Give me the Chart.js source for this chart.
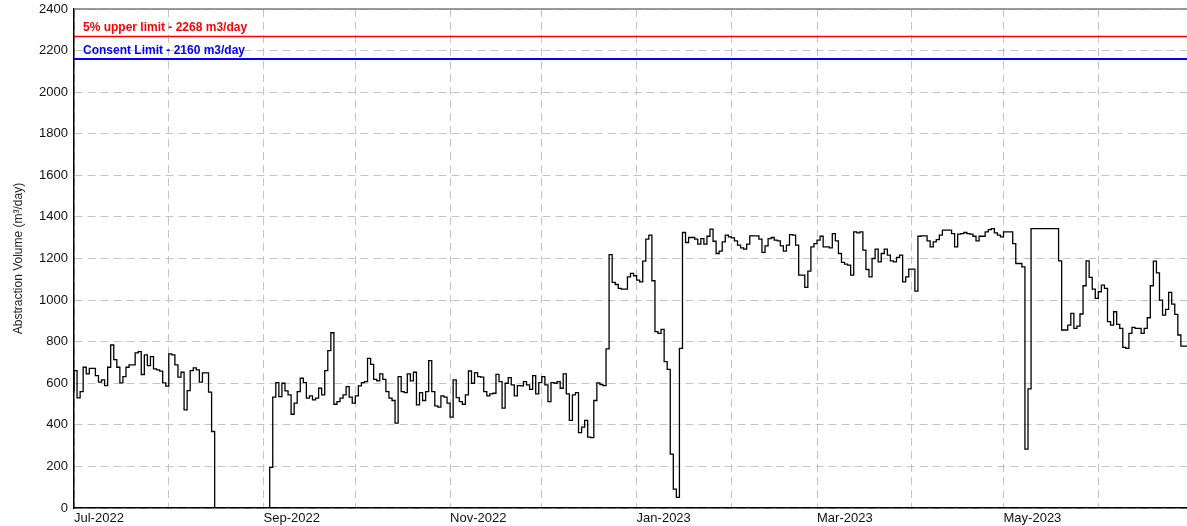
<!DOCTYPE html>
<html>
<head>
<meta charset="utf-8">
<script src="https://cdn.jsdelivr.net/npm/chart.js@4.4.0/dist/chart.umd.min.js"></script>
<style>
html,body{margin:0;padding:0;background:#fff;}
#wrap{width:1187px;height:526px;position:relative;}
</style>
</head>
<body>
<div id="wrap"><canvas id="c"></canvas></div>
<script>
// ---------------- DATA ----------------
const startDate = [2022, 6, 1]; // 1 Jul 2022 (year, monthIndex, day)

// daily abstraction volume, m3/day, from 1 Jul 2022
const volumeJulAug = [562,661,530,560,677,645,672,672,637,605,616,589,677,784,714,677,602,632,677,688,688,746,752,642,736,685,728,669,664,658,602,586,741,736,688,629,653,472,565,661,674,664,605,650,650,557,368,
  0,0,0,0,0,0,0,0,0,0,0,0,0,0,0,0,0,0,195];
const volumeSepOct = [533,603,536,600,563,544,451,504,560,624,603,528,539,520,528,576,544,661,757,843,499,512,528,544,584,533,504,539,587,603,608,720,691,619,611,645,619,560,528,517,408,632,560,555,645,611,653,496,555,517,560,709,560,491,485,539,533];
const volumeNovDec = [504,437,616,531,512,499,544,659,600,651,632,629,560,539,549,552,643,608,480,600,627,592,539,589,587,608,592,571,637,549,603,632,592,512,603,600,608,576,645,549,421,544,555,363,389,421,341,338,517,602,594,589,765];
const volumeJan = [1219,1085,1075,1056,1053,1053,1112,1128,1117,1096,1088,1187,1293,1312,1093,848,840,859,704,667,259,91,51,768];
const volumeFebMar = [1325,1277,1301,1301,1293,1269,1296,1269,1307,1341,1283,1224,1235,1280,1312,1304,1299,1285,1264,1251,1245,1269,1309,1309,1309,1293,1229,1261,1296,1301,1288,1285,1261,1235,1264,1315,1312,1264,1120,1120,1061,1139,1256,1272,1288,1307,1256,1256,1251,1320,1285,1224,1181,1173,1168,1120,1328,1323,1328];
const volumeMarApr = [1240,1147,1112,1200,1245,1184,1224,1245,1216,1189,1184,1205,1216,1088,1112,1149,1149,1043];
const volumeAprMay = [1307,1309,1309,1285,1256,1280,1291,1312,1336,1336,1336,1320,1256,1317,1320,1325,1320,1317,1307,1285,1307,1307,1328,1339,1344,1323,1312,1304,1328,1328,1328,1272,1176,1176,1160,
  283,573,1344,1344,1344,1344,1344,1344,1344,1344,1344];
const volumeMayJun = [1189,856,856,880,936,864,875,933,1069,1189,1109,1053,1008,1040,1072,1056,896,880,944,883,864,773,768,840,869,864,864,840,864,915,1069,1187,1131,1000,928,955,1037,981,931,832,779];

const upperLimit = 2268;
const consentLimit = 2160;
const upperLimitLabel = '5% upper limit - 2268 m3/day';
const consentLimitLabel = 'Consent Limit - 2160 m3/day';

const monthLabels = ['Jul-2022','Aug-2022','Sep-2022','Oct-2022','Nov-2022','Dec-2022','Jan-2023','Feb-2023','Mar-2023','Apr-2023','May-2023','Jun-2023'];
const yTitle = 'Abstraction Volume (m³/day)';
const yMin = 0, yMax = 2400, yStep = 200;

// ---------------- BUILD ----------------
const dailyVolume = [].concat(volumeJulAug, volumeSepOct, volumeNovDec, volumeJan, volumeFebMar, volumeMarApr, volumeAprMay, volumeMayJun);
const DAY = 86400000;
const t0 = Date.UTC(startDate[0], startDate[1], startDate[2]);
const monthStarts = monthLabels.map((_, i) => (Date.UTC(startDate[0], startDate[1] + i, 1) - t0) / DAY);
const nDays = dailyVolume.length;
const volumePts = dailyVolume.map((v, i) => ({x: i, y: v}));
volumePts.push({x: nDays, y: dailyVolume[nDays - 1]});

Chart.defaults.font.family = "'Liberation Sans', Arial, sans-serif";

const framePlugin = {
  id: 'frame',
  afterDatasetsDraw(chart) {
    const {ctx, chartArea: a, scales: {y}} = chart;
    ctx.save();
    ctx.strokeStyle = '#7a7a7a';
    ctx.lineWidth = 1.5;
    ctx.beginPath();
    ctx.moveTo(a.left, a.top);
    ctx.lineTo(a.right, a.top);
    ctx.stroke();
    ctx.font = "bold 12px 'Liberation Sans', Arial, sans-serif";
    ctx.textBaseline = 'alphabetic';
    ctx.textAlign = 'left';
    ctx.fillStyle = '#ff0000';
    ctx.fillText(upperLimitLabel, a.left + 9, y.getPixelForValue(upperLimit) - 5);
    ctx.fillStyle = '#0000ff';
    ctx.fillText(consentLimitLabel, a.left + 9, y.getPixelForValue(consentLimit) - 5);
    ctx.restore();
  }
};

new Chart(document.getElementById('c'), {
  type: 'line',
  data: {
    datasets: [
      {
        label: 'Abstraction Volume',
        data: volumePts,
        stepped: 'after',
        borderColor: '#000',
        borderWidth: 1.3,
        pointRadius: 0,
        fill: false
      },
      {
        label: upperLimitLabel,
        data: [{x: 0, y: upperLimit}, {x: nDays, y: upperLimit}],
        borderColor: '#ff0000',
        borderWidth: 1.5,
        pointRadius: 0
      },
      {
        label: consentLimitLabel,
        data: [{x: 0, y: consentLimit}, {x: nDays, y: consentLimit}],
        borderColor: '#0000ff',
        borderWidth: 2,
        pointRadius: 0
      }
    ]
  },
  options: {
    responsive: true,
    maintainAspectRatio: false,
    animation: false,
    layout: {padding: {top: 9, right: 0, left: 0, bottom: 0}},
    plugins: {legend: {display: false}, tooltip: {enabled: false}},
    scales: {
      x: {
        type: 'linear',
        min: 0,
        max: nDays,
        afterBuildTicks: s => { s.ticks = monthStarts.map(v => ({value: v})); },
        afterFit: s => { s.height = 18; },
        grid: {color: '#c4c4c4', lineWidth: 1, drawTicks: false},
        border: {color: '#000', width: 1.5, dash: [8, 5]},
        ticks: {
          autoSkip: false,
          maxRotation: 0,
          align: 'start',
          padding: 3,
          color: '#111',
          font: {size: 13},
          callback: (v, i) => (i % 2 === 0 ? monthLabels[i] : '')
        }
      },
      y: {
        min: yMin,
        max: yMax,
        afterFit: s => { s.width = 74; s.paddingTop = 0; s.paddingBottom = 0; },
        grid: {color: '#c4c4c4', lineWidth: 1, drawTicks: false},
        border: {color: '#000', width: 1.5, dash: [8, 5]},
        ticks: {stepSize: yStep, padding: 6, color: '#111', font: {size: 13}, callback: v => String(v)},
        title: {display: true, text: yTitle, color: '#222', font: {size: 12}, padding: {top: 11, bottom: 0}}
      }
    }
  },
  plugins: [framePlugin]
});
</script>
</body>
</html>
